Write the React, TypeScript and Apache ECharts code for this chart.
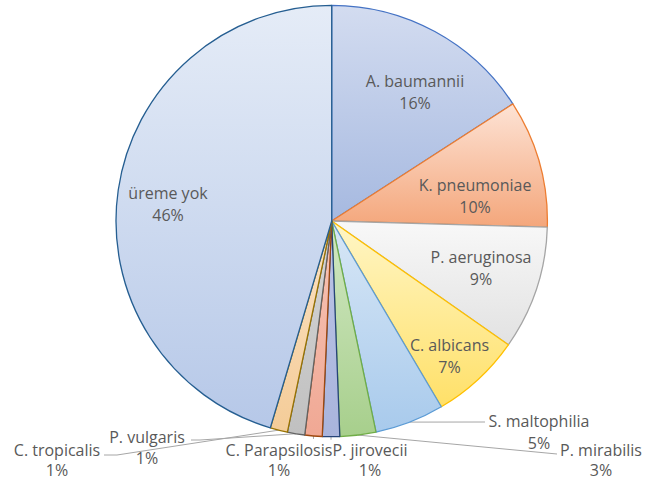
import React, { useEffect, useRef } from "react";
import * as echarts from "echarts";

// Data (percent shares)
const categories = [
  "A. baumannii",
  "K. pneumoniae",
  "P. aeruginosa",
  "C. albicans",
  "S. maltophilia",
  "P. mirabilis",
  "P. jirovecii",
  "C. Parapsilosis",
  "P. vulgaris",
  "C. tropicalis",
  "üreme yok",
];
const shares = [15.9, 9.6, 9.3, 6.8, 5.2, 2.7, 1.3, 1.3, 1.3, 1.3, 45.5];

// Styles
const borderColors = [
  "#4472C4", "#ED7D31", "#A5A5A5", "#FFC000", "#5B9BD5", "#70AD47",
  "#264478", "#9E480E", "#636363", "#997300", "#255E91",
];
const fillTop = [
  "#d3dcf0", "#fde3d5", "#f8f8f8", "#fff6c6", "#d8e7f6", "#d2e8c4",
  "#bcc5e6", "#f7c6b8", "#d6d6d6", "#fbe2c4", "#e5ecf7",
];
const fillBottom = [
  "#a6b9e0", "#f4a67b", "#e2e2e2", "#ffe068", "#a8caec", "#a7cf8c",
  "#a9b4dc", "#f0a894", "#c0c0c0", "#f4cc98", "#b6c8e8",
];

// Layout
const CX = 331.7;
const CY = 221;
const R = 215.7;
// centres of the label blocks
const labelAt: [number, number][] = [
  [415, 92], [475, 196], [481, 268], [449.5, 355.5], [539, 431.5],
  [601, 460], [370, 460], [279, 460], [147, 447.5], [57, 460], [168, 204],
];
const labelLineHeight = [22, 22, 22, 22, 22, 20, 20, 20, 21, 20, 22];
// leader line tails (after the anchor on the slice edge)
const leaderTail: (number[][] | "tick" | null)[] = [
  null, null, null, null,
  [[485, 422]],
  [[557, 454]],
  "tick",
  "tick",
  [[200, 440], [191, 440]],
  [[117, 455], [104, 455]],
  null,
];

function edgePoint(i: number): number[] {
  const total = shares.reduce((a, b) => a + b, 0);
  let before = 0;
  for (let k = 0; k < i; k++) before += shares[k];
  const mid = ((before + shares[i] / 2) / total) * Math.PI * 2;
  return [CX + R * Math.sin(mid), CY - R * Math.cos(mid)];
}

export default function App() {
  const ref = useRef<HTMLDivElement>(null);
  useEffect(() => {
    if (!ref.current) return;
    const chart = echarts.init(ref.current, undefined, { renderer: "svg" });
    const data = categories.map((name, i) => ({
      name,
      value: shares[i],
      itemStyle: {
        color: new echarts.graphic.LinearGradient(0, 0, 0, 1, [
          { offset: 0, color: fillTop[i] },
          { offset: 1, color: fillBottom[i] },
        ]),
        borderColor: borderColors[i],
        borderWidth: 1.3,
      },
      label: { lineHeight: labelLineHeight[i] },
      labelLine: { show: leaderTail[i] != null },
    }));
    chart.setOption({
      animation: false,
      backgroundColor: "#ffffff",
      series: [
        {
          type: "pie",
          center: [CX, CY],
          radius: [0, R],
          startAngle: 90,
          clockwise: true,
          avoidLabelOverlap: false,
          data,
          label: {
            show: true,
            position: "outside",
            formatter: (p: any) => `${p.name}\n${Math.round(p.value)}%`,
            color: "#595959",
            fontFamily: "Open Sans",
            fontSize: 16,
            lineHeight: 22,
            align: "center",
          },
          labelLine: {
            show: true,
            lineStyle: { color: "#a6a6a6", width: 1 },
            length: 10,
            length2: 10,
          },
          labelLayout: (params: any) => {
            const i = params.dataIndex;
            const [x, y] = labelAt[i];
            const res: any = { x, y, align: "center", verticalAlign: "middle" };
            const tail = leaderTail[i];
            if (tail) {
              const anchor =
                (params.labelLinePoints && params.labelLinePoints[0]) || edgePoint(i);
              if (tail === "tick") {
                res.labelLinePoints = [anchor, [anchor[0], anchor[1] + 3]];
              } else {
                res.labelLinePoints = [anchor, ...tail];
              }
            }
            return res;
          },
        },
      ],
    });
    return () => chart.dispose();
  }, []);
  return (
    <div
      ref={ref}
      style={{ position: "absolute", left: 0, top: 0, width: 657, height: 482 }}
    />
  );
}
